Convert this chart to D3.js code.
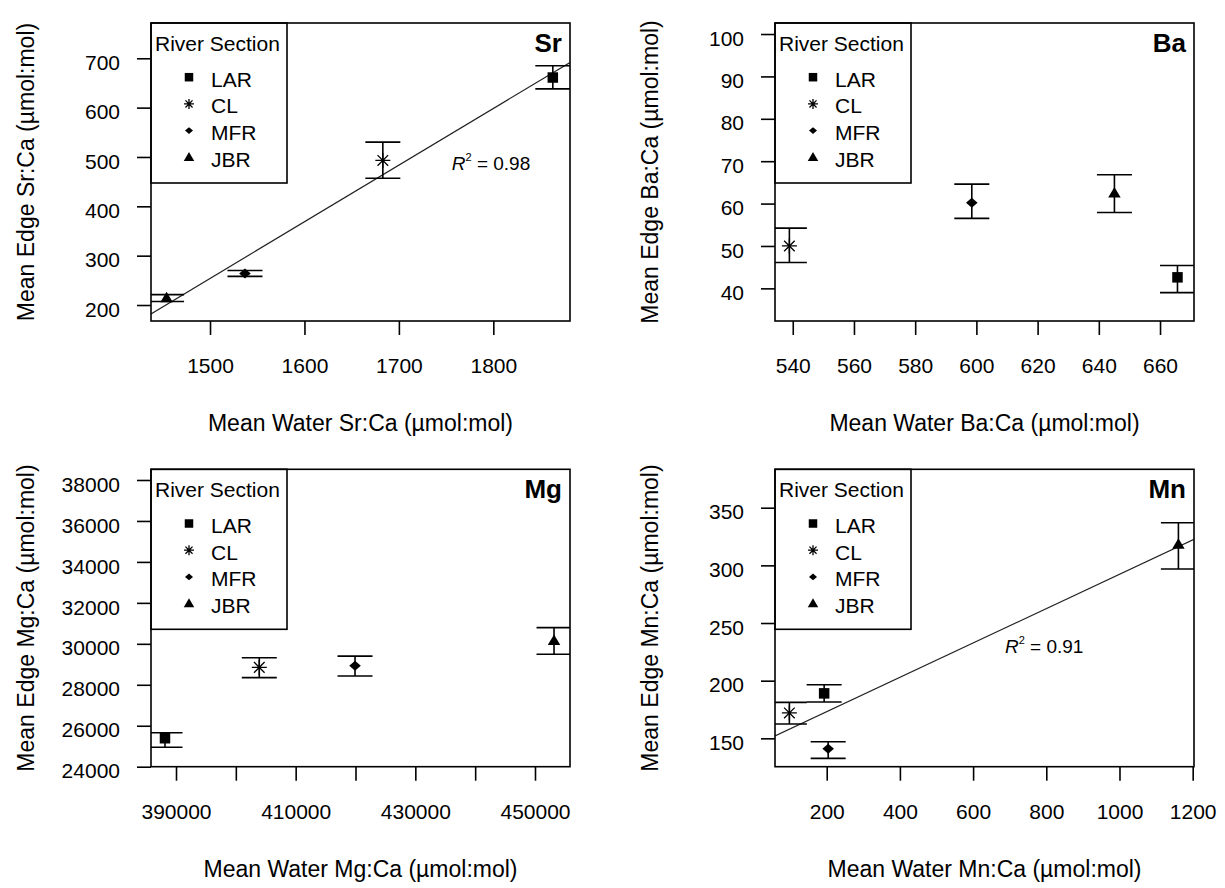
<!DOCTYPE html>
<html><head><meta charset="utf-8">
<script src="https://cdn.jsdelivr.net/npm/d3@7"></script>
<style>
body{margin:0;background:#fff;}
text{font-family:"Liberation Sans",Arial,sans-serif;fill:#000;}
</style>
</head><body>
<svg id="c" width="1225" height="888"></svg>
<script>
// ---------- data ----------
const sections = ["LAR", "CL", "MFR", "JBR"];
const symbols  = ["square", "star", "diamond", "triangle"];

const srWater = [1863, 1683, 1537, 1454];
const srEdge  = [661, 493, 264, 214];
const srLow   = [638, 457, 258, 207];
const srHigh  = [685, 530, 270, 221];

const baWater = [665.7, 538.9, 598.5, 645.1];
const baEdge  = [42.6, 50.0, 60.2, 62.4];
const baLow   = [39.0, 46.1, 56.5, 57.9];
const baHigh  = [45.4, 54.2, 64.6, 66.8];

const mgWater = [388160, 403920, 419920, 453180];
const mgEdge  = [25390, 28850, 28930, 30150];
const mgLow   = [24950, 28350, 28430, 29490];
const mgHigh  = [25660, 29320, 29400, 30790];

const mnWater = [193, 98, 204, 1161];
const mnEdge  = [189, 172, 141, 318];
const mnLow   = [181.5, 162.4, 132.6, 296.8];
const mnHigh  = [196.5, 181.2, 147.1, 337];

const srXTicks = [1500, 1600, 1700, 1800];
const srYTicks = [200, 300, 400, 500, 600, 700];
const baXTicks = [540, 560, 580, 600, 620, 640, 660];
const baYTicks = [40, 50, 60, 70, 80, 90, 100];
const mgXTicks = [390000, 400000, 410000, 420000, 430000, 440000, 450000];
const mgXLabels = [390000, 410000, 430000, 450000];
const mgYTicks = [24000, 26000, 28000, 30000, 32000, 34000, 36000, 38000];
const mnXTicks = [200, 400, 600, 800, 1000, 1200];
const mnYTicks = [150, 200, 250, 300, 350];

const legendTitle = "River Section";
const srR2 = "0.98";
const mnR2 = "0.91";

// ---------- layout ----------
const svg = d3.select("#c");
svg.append("rect").attr("width",1225).attr("height",888).attr("fill","#fff");

const panels = [
  {key:"Sr", water:srWater, edge:srEdge, lo:srLow, hi:srHigh, xTicks:srXTicks, yTicks:srYTicks,
   box:[151,23,570,321], xDom:[1437.5,1881.2], yDom:[167.6,771.5],
   xTitle:"Mean Water Sr:Ca (µmol:mol)", yTitle:"Mean Edge Sr:Ca (µmol:mol)", fit:true, r2:srR2, r2At:[1756,473.6]},
  {key:"Ba", water:baWater, edge:baEdge, lo:baLow, hi:baHigh, xTicks:baXTicks, yTicks:baYTicks,
   box:[775,23,1194,321], xDom:[534.2,671.1], yDom:[32.3,102.6],
   xTitle:"Mean Water Ba:Ca (µmol:mol)", yTitle:"Mean Edge Ba:Ca (µmol:mol)", fit:false},
  {key:"Mg", water:mgWater, edge:mgEdge, lo:mgLow, hi:mgHigh, xTicks:mgXTicks, xLabels:mgXLabels, yTicks:mgYTicks,
   box:[151,469.3,570,766.7], xDom:[385822,455850], yDom:[24000,38522],
   xTitle:"Mean Water Mg:Ca (µmol:mol)", yTitle:"Mean Edge Mg:Ca (µmol:mol)", fit:false},
  {key:"Mn", water:mnWater, edge:mnEdge, lo:mnLow, hi:mnHigh, xTicks:mnXTicks, yTicks:mnYTicks,
   box:[775,469.3,1194,766.7], xDom:[58.7,1203.6], yDom:[125.4,383.3],
   xTitle:"Mean Water Mn:Ca (µmol:mol)", yTitle:"Mean Edge Mn:Ca (µmol:mol)", fit:true, r2:mnR2, r2At:[687,223.7]}
];

const FS = 21, FT = 23, SW = 1.6;

function marker(g, type, cx, cy, big) {
  if (type === "square") {
    const s = big ? 10.5 : 8.5;
    g.append("rect").attr("x",cx-s/2).attr("y",cy-s/2).attr("width",s).attr("height",s).attr("fill","#000");
  } else if (type === "star") {
    const r = big ? 7.5 : 5, d = r*0.7071;
    g.append("path").attr("d",
      `M${cx-r},${cy}L${cx+r},${cy}M${cx},${cy-r}L${cx},${cy+r}M${cx-d},${cy-d}L${cx+d},${cy+d}M${cx-d},${cy+d}L${cx+d},${cy-d}`)
      .attr("stroke","#000").attr("stroke-width",1.3).attr("fill","none");
  } else if (type === "diamond") {
    const hw = big ? 5.8 : 4, hh = big ? 5 : 3.4;
    g.append("path").attr("d",`M${cx-hw},${cy}L${cx},${cy-hh}L${cx+hw},${cy}L${cx},${cy+hh}Z`).attr("fill","#000");
  } else {
    const w = big ? 12.5 : 10.5, h = big ? 10.5 : 9;
    g.append("path").attr("d",`M${cx},${cy-0.6*h}L${cx+w/2},${cy+0.4*h}L${cx-w/2},${cy+0.4*h}Z`).attr("fill","#000");
  }
}

panels.forEach((p, pi) => {
  const [x0,y0,x1,y1] = p.box;
  const x = d3.scaleLinear().domain(p.xDom).range([x0,x1]);
  const y = d3.scaleLinear().domain(p.yDom).range([y1,y0]);
  const g = svg.append("g");

  // axes
  const ax = g.append("g").attr("transform",`translate(0,${y1})`)
    .call(d3.axisBottom(x).tickValues(p.xTicks).tickSize(14).tickPadding(23)
      .tickFormat(v => (!p.xLabels || p.xLabels.includes(v)) ? String(v) : ""));
  const ay = g.append("g").attr("transform",`translate(${x0},0)`)
    .call(d3.axisLeft(y).tickValues(p.yTicks).tickSize(14).tickPadding(17).tickFormat(v => String(v)));
  [ax, ay].forEach(a => {
    a.select(".domain").remove();
    a.selectAll(".tick line").attr("stroke","#000").attr("stroke-width",SW);
    a.selectAll(".tick text").attr("font-size",FS).attr("font-family","Liberation Sans, Arial, sans-serif").attr("fill","#000");
  });
  ay.selectAll(".tick text").attr("dy","0.53em");

  // titles
  g.append("text").attr("x",(x0+x1)/2).attr("y",y1+110).attr("text-anchor","middle")
    .attr("font-size",FT).text(p.xTitle);
  g.append("text").attr("transform",`translate(${x0-117},${(y0+y1)/2}) rotate(-90)`)
    .attr("text-anchor","middle").attr("font-size",FT).text(p.yTitle);

  // clip
  const cid = "clip"+pi;
  svg.append("clipPath").attr("id",cid).append("rect")
    .attr("x",x0).attr("y",y0).attr("width",x1-x0).attr("height",y1-y0);
  const pg = g.append("g").attr("clip-path",`url(#${cid})`);

  // regression line (least squares fit of the plotted means)
  if (p.fit) {
    const mx = d3.mean(p.water), my = d3.mean(p.edge);
    let sxy = 0, sxx = 0;
    p.water.forEach((v,i) => { sxy += (v-mx)*(p.edge[i]-my); sxx += (v-mx)*(v-mx); });
    const b = sxy/sxx, a0 = my - b*mx;
    pg.append("line").attr("x1",x(p.xDom[0])).attr("y1",y(a0+b*p.xDom[0]))
      .attr("x2",x(p.xDom[1])).attr("y2",y(a0+b*p.xDom[1]))
      .attr("stroke","#222").attr("stroke-width",1.2);
    const t = g.append("text").attr("x",x(p.r2At[0])).attr("y",y(p.r2At[1])).attr("font-size",19);
    t.append("tspan").attr("font-style","italic").text("R");
    t.append("tspan").attr("dy",-9).attr("font-size",11).text("2");
    t.append("tspan").attr("dy",9).text(" = " + p.r2);
  }

  // error bars + points
  const cap = 17.5;
  p.water.forEach((v,i) => {
    const cx = x(v);
    const eb = pg.append("g").attr("stroke","#000").attr("stroke-width",SW);
    eb.append("line").attr("x1",cx).attr("x2",cx).attr("y1",y(p.lo[i])).attr("y2",y(p.hi[i]));
    eb.append("line").attr("x1",cx-cap).attr("x2",cx+cap).attr("y1",y(p.lo[i])).attr("y2",y(p.lo[i]));
    eb.append("line").attr("x1",cx-cap).attr("x2",cx+cap).attr("y1",y(p.hi[i])).attr("y2",y(p.hi[i]));
    marker(pg, symbols[i], cx, y(p.edge[i]), true);
  });

  // legend
  const lg = g.append("g");
  lg.append("rect").attr("x",x0).attr("y",y0).attr("width",136).attr("height",160)
    .attr("fill","#fff").attr("stroke","#000").attr("stroke-width",SW);
  lg.append("text").attr("x",x0+4).attr("y",y0+28).attr("font-size",FS).text(legendTitle);
  sections.forEach((s,i) => {
    const by = y0 + 63.7 + i*26.7;
    marker(lg, symbols[i], x0+38, by-9.5, false);
    lg.append("text").attr("x",x0+60).attr("y",by).attr("font-size",FS).text(s);
  });

  // panel label
  g.append("text").attr("x",x1-8).attr("y",y0+29).attr("text-anchor","end")
    .attr("font-size",26).attr("font-weight","bold").text(p.key);

  // box
  g.append("rect").attr("x",x0).attr("y",y0).attr("width",x1-x0).attr("height",y1-y0)
    .attr("fill","none").attr("stroke","#000").attr("stroke-width",SW);
});
</script>
</body></html>
